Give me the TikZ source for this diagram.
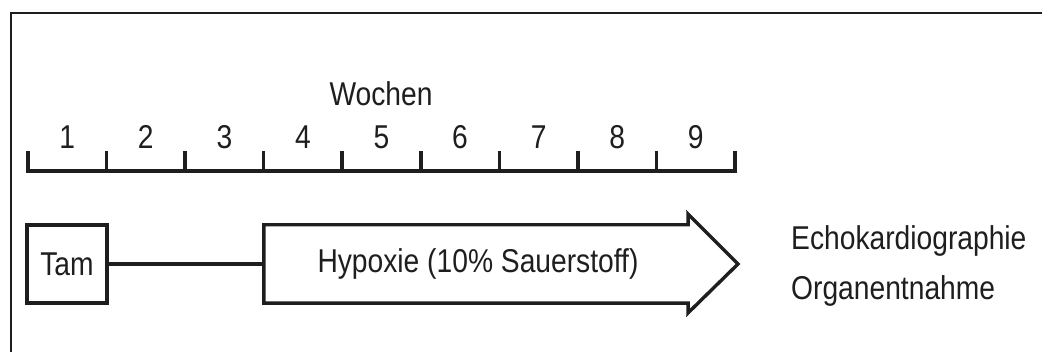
\documentclass[tikz,border=0pt]{standalone}
\usepackage{fontspec}
\setmainfont{Liberation Sans}[FakeStretch=0.855]
\definecolor{ink}{HTML}{1E1E1E}
\begin{document}
\begin{tikzpicture}[x=1pt,y=-1pt,
  lbl/.style={inner sep=0pt,font=\fontsize{33}{38}\selectfont,text=ink},
  thick line/.style={line width=3.6pt,draw=ink},
  boxstyle/.style={thick line,rectangle,inner sep=0pt,font=\fontsize{33}{38}\selectfont,text=ink}]
\useasboundingbox (0,0) rectangle (1042,352);
% frame
\draw[line width=1.8pt,ink] (11,370) -- (11,13) -- (1060,13);
% time axis
\draw[thick line,line cap=butt] (28,151) -- (28,171) -- (735,171) -- (735,151);
\foreach \k in {1,...,8}{
  \draw[thick line] (28+78.56*\k,171) -- (28+78.56*\k,151);
}
\foreach \k in {1,...,9}{
  \node[lbl] (w\k) at (28+78.56*\k-39.3,137) {\k};
}
\node[lbl] (wochen) at (381,94) {Wochen};
% Tam box
\node[boxstyle,draw,minimum width=80pt,minimum height=78pt] (tam) at (67,264) {Tam};
% hypoxia arrow
\node[lbl,minimum width=424pt,minimum height=78pt] (hyp) at (476,264) {};
\node[lbl] (hyptext) at (478,264) {Hypoxie (10\% Sauerstoff)};
\draw[line width=3.4pt,ink,line join=miter]
  (hyp.south west) -- (hyp.north west) -- (hyp.north east) -- (688,214)
  -- (738,264) -- (688,313) -- (hyp.south east) -- cycle;
\draw[thick line] (tam.east) -- (hyp.west);
% right labels
\node[lbl,anchor=west] (echo) at (791,241) {Echokardiographie};
\node[lbl,anchor=west] (organ) at (791,291) {Organentnahme};
\end{tikzpicture}
\end{document}
